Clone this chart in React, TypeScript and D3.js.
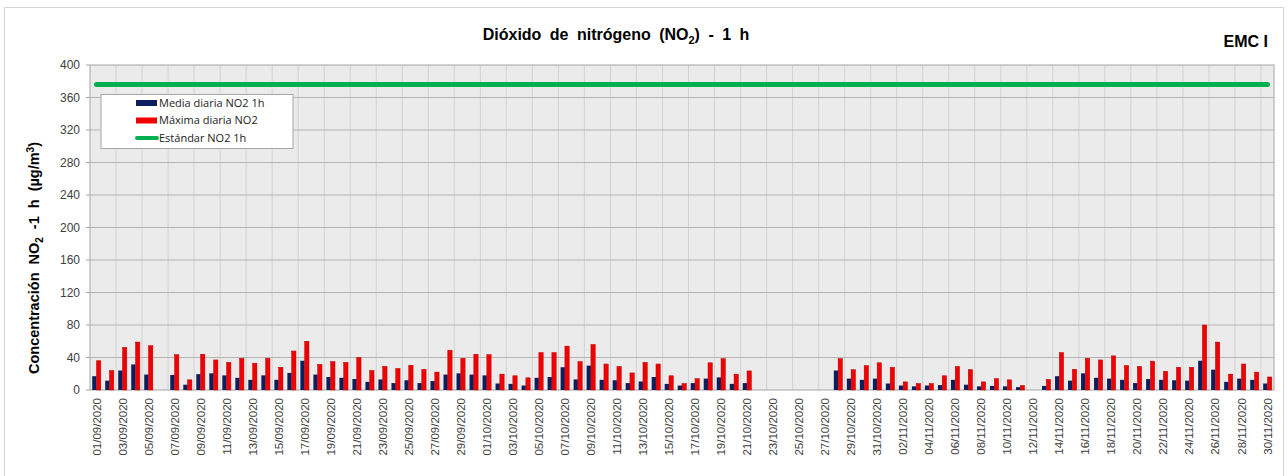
import React from 'react';
import * as d3 from 'd3';

// Daily dates 01/09/2020 .. 30/11/2020
const startDay = new Date(2020, 8, 1);
const dates: string[] = d3.timeDay.range(startDay, new Date(2020, 11, 1)).map(d3.timeFormat('%d/%m/%Y'));

// Media diaria NO2 1h (null = no data)
const mediaNO2: (number | null)[] = [
  17, 11.5, 24, 31.5, 19, null, 18.5, 6.5, 19.5, 20.5,
  18, 15, 12.5, 18, 12.5, 21, 36, 19, 16, 15,
  13.5, 10, 13, 8.5, 12, 8.5, 11, 19, 20.5, 19,
  18, 8, 7.5, 5.5, 15, 16, 28, 13, 30, 12.5,
  12, 8.5, 10.5, 16, 7.5, 5.5, 8.5, 14, 15.5, 7.5,
  8.5, null, null, null, null, null, null, 24, 14, 12.5,
  14, 8, 5.5, 4.5, 5.5, 6, 12.5, 6.5, 4.5, 5,
  4.5, 3.5, null, 5, 17, 11.5, 20.5, 15, 14, 12.5,
  8.5, 13.5, 12.5, 12, 11.5, 36, 25, 10, 14, 12.5,
  8
];

// Máxima diaria NO2
const maximaNO2: (number | null)[] = [
  36, 24, 52.5, 59, 54.5, null, 43.5, 12.5, 44, 37,
  34, 39, 33, 39, 28, 48, 60, 31.5, 35, 34,
  40, 24, 29, 26.5, 30.5, 25.5, 22, 49, 39, 44,
  43.5, 19.5, 17.5, 15, 46, 46, 54, 35, 56, 32,
  29, 21, 34, 32, 17.5, 8, 14, 33.5, 38.5, 19.5,
  23.5, null, null, null, null, null, null, 38.5, 25, 30,
  33.5, 28, 10, 8, 8, 17.5, 29, 25, 10, 14,
  12.5, 5.5, null, 13, 46, 25.5, 39, 37, 42, 30,
  29, 35.5, 23, 28, 28, 80, 59, 19.5, 32, 22,
  16
];

const standardNO2 = 376;
const yTicks = d3.range(0, 401, 40);
const seriesKeys = ['media', 'maxima'];
const seriesColors: Record<string, string> = { media: '#0c1e5b', maxima: '#f00000' };

const legendItems = [
  { label: 'Media diaria NO2 1h', color: '#0c1e5b', type: 'bar' },
  { label: 'Máxima diaria NO2', color: '#f00000', type: 'bar' },
  { label: 'Estándar NO2 1h', color: '#00b050', type: 'line' },
];

export default function App() {
  const width = 1288;
  const height = 476;
  const plot = { left: 90, right: 1274, top: 65, bottom: 390 };

  const x = d3.scaleBand<string>()
    .domain(dates)
    .range([plot.left, plot.right])
    .paddingInner(0.34)
    .paddingOuter(0.17);
  const xs = d3.scaleBand<string>().domain(seriesKeys).range([0, x.bandwidth()]);
  const y = d3.scaleLinear().domain([0, 400]).range([plot.bottom, plot.top]);

  const step = x.step();
  const vGrid = d3.range(2, dates.length, 2).map(i => plot.left + step * i);

  const font = '"Liberation Sans", Arial, sans-serif';

  const line = d3.line<string>()
    .x(d => (x(d) ?? 0) + x.bandwidth() / 2)
    .y(() => y(standardNO2));

  return (
    <div style={{ position: 'absolute', left: 0, top: 0 }}>
      <svg width={width} height={height} style={{ display: 'block', background: '#fff' }} fontFamily={font}>
        {/* outer frame */}
        <rect x={4.5} y={7.5} width={1279} height={475} fill="#fff" stroke="#d4d4d4" />

        {/* title */}
        <text x={616} y={40} textAnchor="middle" fontSize={16} fontWeight="bold" wordSpacing={4}>
          Dióxido de nitrógeno (NO<tspan fontSize={11} dy={4}>2</tspan><tspan dy={-4}>) - 1 h</tspan>
        </text>
        <text x={1268} y={47} textAnchor="end" fontSize={16} fontWeight="bold">EMC I</text>

        {/* plot area */}
        <rect x={plot.left} y={plot.top} width={plot.right - plot.left} height={plot.bottom - plot.top} fill="#ebebeb" />
        {vGrid.map((gx, i) => (
          <line key={'v' + i} x1={gx} x2={gx} y1={plot.top} y2={plot.bottom} stroke="#d2d2d2" />
        ))}
        {yTicks.slice(1, -1).map(t => (
          <line key={'h' + t} x1={plot.left} x2={plot.right} y1={y(t)} y2={y(t)} stroke="#b4b4b4" />
        ))}
        <rect x={plot.left} y={plot.top} width={plot.right - plot.left} height={plot.bottom - plot.top} fill="none" stroke="#a6a6a6" />

        {/* y axis */}
        {yTicks.map(t => (
          <g key={'yt' + t}>
            <line x1={plot.left - 4} x2={plot.left} y1={y(t)} y2={y(t)} stroke="#a6a6a6" />
            <text x={80} y={y(t)} dy="0.35em" textAnchor="end" fontSize={12} fill="#404040">{t}</text>
          </g>
        ))}
        <text transform={`translate(39,258) rotate(-90)`} textAnchor="middle" fontSize={14.5} fontWeight="bold" wordSpacing={4}>
          Concentración NO<tspan fontSize={10} dy={4}>2</tspan><tspan dy={-4}> -1 h (µg/m</tspan><tspan fontSize={10} dy={-5}>3</tspan><tspan dy={5}>)</tspan>
        </text>

        {/* bars */}
        {dates.map((d, i) => (
          <g key={d} transform={`translate(${x(d)},0)`}>
            {mediaNO2[i] != null && (
              <rect x={xs('media')} y={y(mediaNO2[i] as number)} width={xs.bandwidth()}
                height={y(0) - y(mediaNO2[i] as number)} fill={seriesColors.media} />
            )}
            {maximaNO2[i] != null && (
              <rect x={xs('maxima')} y={y(maximaNO2[i] as number)} width={xs.bandwidth()}
                height={y(0) - y(maximaNO2[i] as number)} fill={seriesColors.maxima} stroke="#c00000" strokeWidth={0.5} />
            )}
          </g>
        ))}

        {/* standard line */}
        <path d={line(dates) ?? ''} fill="none" stroke="#00b050" strokeWidth={5} strokeLinecap="round" />

        {/* x axis labels */}
        {dates.filter((_, i) => i % 2 === 0).map(d => (
          <text key={'xl' + d} transform={`translate(${(x(d) ?? 0) + x.bandwidth() / 2},398) rotate(-90)`}
            textAnchor="end" dy="0.35em" fontSize={11.5} fill="#404040">{d}</text>
        ))}

        {/* legend */}
        <rect x={101} y={94.5} width={192} height={54} fill="#fff" stroke="#a6a6a6" />
        {legendItems.map((it, i) => (
          <g key={it.label} transform={`translate(136,${103 + i * 17.5})`}>
            {it.type === 'bar'
              ? <rect x={0} y={-3} width={21} height={6} fill={it.color} />
              : <line x1={1} x2={21} y1={0} y2={0} stroke={it.color} strokeWidth={4} strokeLinecap="round" />}
            <text x={23} y={0} dy="0.35em" fontSize={11} fill="#222" fontFamily='"Open Sans", sans-serif'>{it.label}</text>
          </g>
        ))}
      </svg>
    </div>
  );
}
